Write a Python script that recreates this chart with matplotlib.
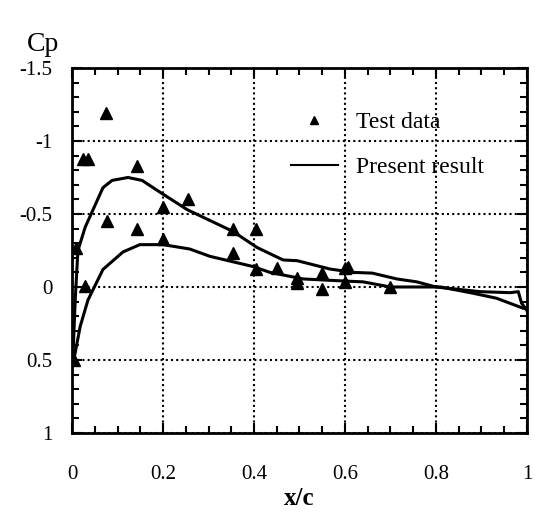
import matplotlib
matplotlib.use("Agg")
import matplotlib.pyplot as plt
from matplotlib.lines import Line2D
from matplotlib.ticker import MultipleLocator

plt.rcParams['font.family'] = ['Liberation Serif', 'DejaVu Serif']

# computed Cp distribution, suction side
upper_x = [0.002, 0.007, 0.013, 0.029, 0.068, 0.088, 0.123, 0.154, 0.193, 0.253,
           0.354, 0.407, 0.464, 0.495, 0.567, 0.618, 0.66, 0.714, 0.758, 0.80,
           0.897, 0.963, 0.981, 0.988, 0.999]
upper_cp = [0.48, 0.09, -0.25, -0.41, -0.68, -0.73, -0.75, -0.73, -0.65, -0.53,
            -0.38, -0.27, -0.185, -0.18, -0.123, -0.10, -0.095, -0.055, -0.035, 0.0,
            0.032, 0.039, 0.032, 0.11, 0.157]

# computed Cp distribution, pressure side
lower_x = [0.002, 0.007, 0.018, 0.035, 0.068, 0.112, 0.149, 0.2, 0.259, 0.303,
           0.398, 0.435, 0.508, 0.604, 0.64, 0.70, 0.81, 0.882, 0.933, 0.992, 1.0]
lower_cp = [0.53, 0.45, 0.27, 0.09, -0.12, -0.24, -0.29, -0.29, -0.26, -0.21,
            -0.14, -0.10, -0.055, -0.04, -0.035, 0.0, 0.0, 0.043, 0.077, 0.146, 0.15]

# measured points
test_x = [0.005, 0.009, 0.025, 0.035, 0.029, 0.075, 0.077, 0.143, 0.143, 0.2,
          0.2, 0.255, 0.354, 0.354, 0.404, 0.404, 0.45, 0.495, 0.495, 0.55,
          0.55, 0.60, 0.607, 0.60, 0.70]
test_cp = [0.5, -0.27, -0.88, -0.88, -0.01, -1.19, -0.45, -0.83, -0.40, -0.55,
           -0.33, -0.60, -0.40, -0.235, -0.40, -0.12, -0.13, -0.06, -0.03, -0.095,
           0.015, -0.13, -0.14, -0.035, 0.0]

xticks = [0, 0.2, 0.4, 0.6, 0.8, 1]
xtick_labels = ['0', '0.2', '0.4', '0.6', '0.8', '1']
yticks = [-1.5, -1, -0.5, 0, 0.5, 1]
ytick_labels = ['-1.5', '-1', '-0.5', '0', '0.5', '1']

fig = plt.figure(figsize=(5.35, 5.17), dpi=100)
ax = fig.add_axes([0.1346, 0.1625, 0.8504, 0.706])

ax.plot(upper_x, upper_cp, color='black', lw=2.2)
ax.plot(lower_x, lower_cp, color='black', lw=2.2)
ax.plot(test_x, test_cp, linestyle='none', marker='^', color='black', markersize=8)

ax.set_xlim(0, 1)
ax.set_ylim(1, -1.5)
ax.set_xticks(xticks)
ax.set_xticklabels(xtick_labels)
ax.set_yticks(yticks)
ax.set_yticklabels(ytick_labels)
ax.xaxis.set_minor_locator(MultipleLocator(0.05))
ax.yaxis.set_minor_locator(MultipleLocator(0.1))

ax.tick_params(which='both', direction='in', top=True, right=True, width=1.5)
ax.tick_params(which='major', length=7, labelsize=15)
ax.tick_params(which='minor', length=5)
ax.tick_params(axis='x', which='major', pad=23)
ax.tick_params(axis='y', which='major', pad=14)

for s in ax.spines.values():
    s.set_linewidth(2)

ax.grid(True, which='major', color='black', linestyle=(0, (1, 1.5)), lw=1.5)

ax.set_xlabel('x/c', fontsize=18, fontweight='bold', labelpad=2)
fig.text(0.08, 0.913, 'Cp', fontsize=20, ha='center', va='center')

handles = [Line2D([], [], linestyle='none', marker='^', color='black', markersize=6),
           Line2D([], [], color='black', lw=1.5)]
ax.legend(handles, ['Test data', 'Present result'], loc='upper left',
          bbox_to_anchor=(0.481, 0.88), frameon=False, fontsize=17,
          borderpad=0, handlelength=2.0, handletextpad=0.75, labelspacing=1.0,
          borderaxespad=0)

fig.savefig('out.png', dpi=100)
